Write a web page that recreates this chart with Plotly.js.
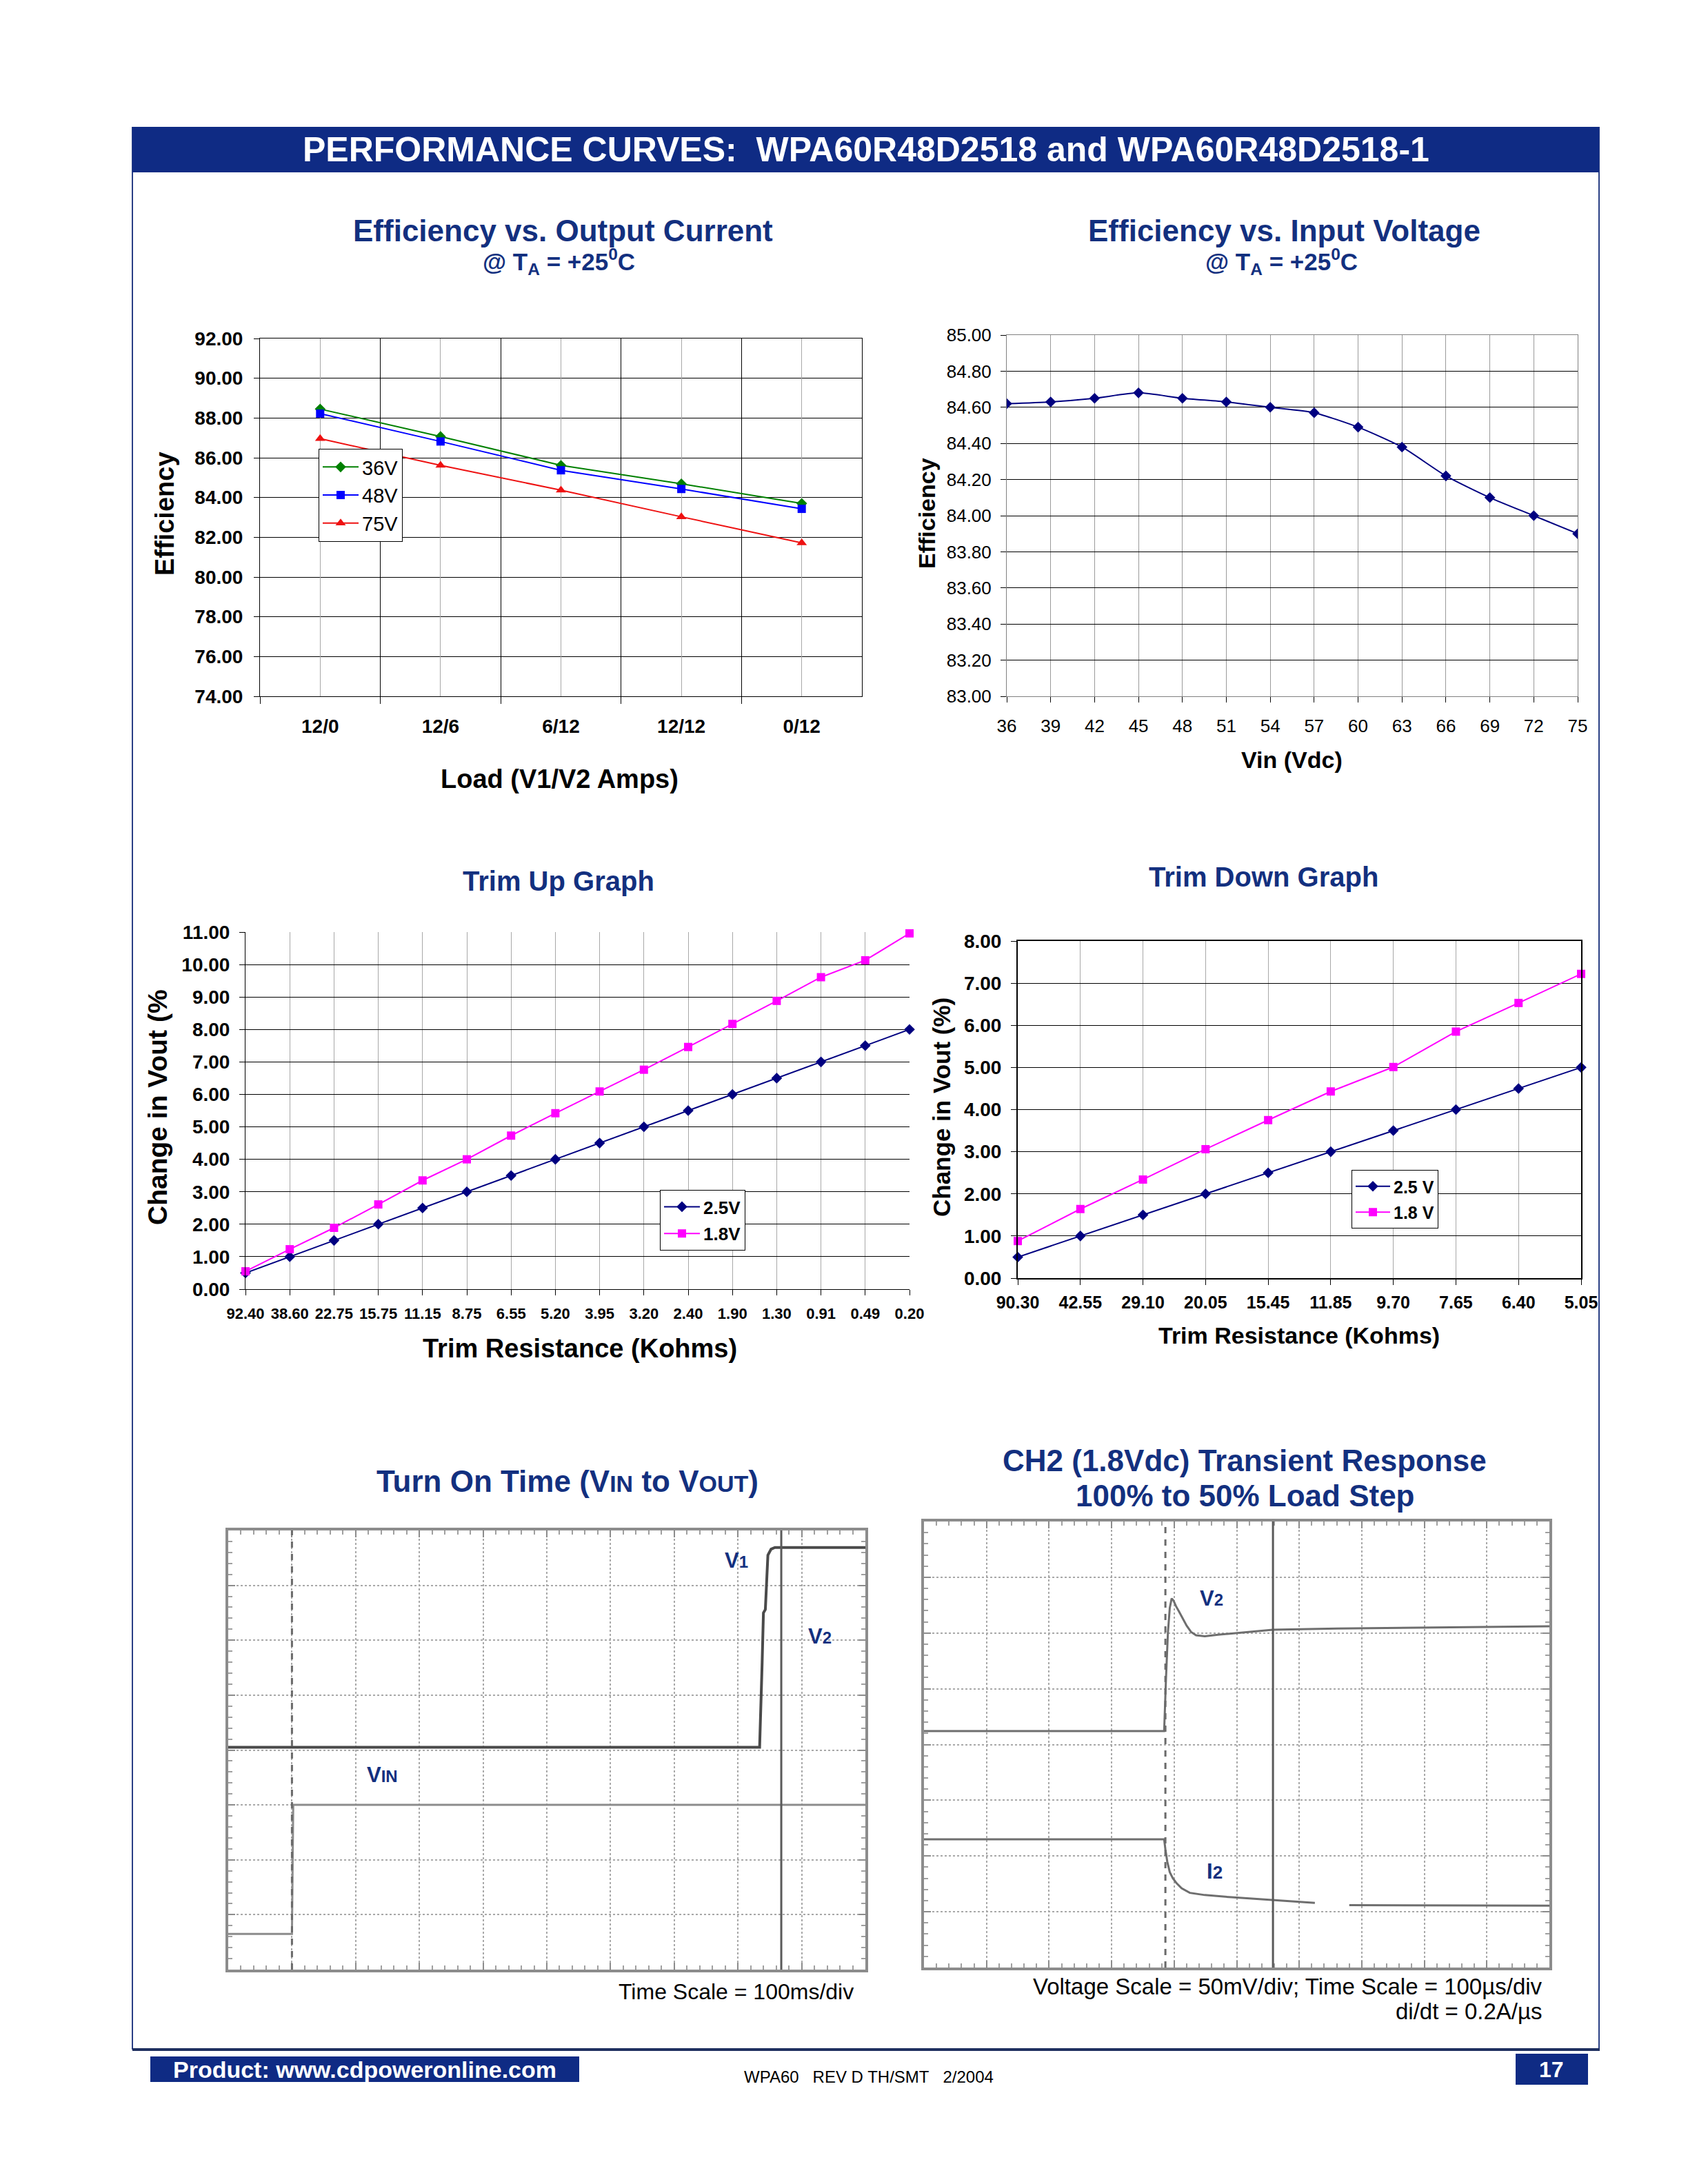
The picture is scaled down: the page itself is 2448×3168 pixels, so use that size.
<!DOCTYPE html>
<html><head><meta charset="utf-8">
<script src="https://cdn.plot.ly/plotly-3.0.1.min.js"></script>
<style>html,body{margin:0;padding:0;background:#fff}#page{width:2448px;height:3168px}</style>
</head><body><div id="page"></div>
<script>
// ================= DATA =================
const loadCats = ['12/0', '12/6', '6/12', '12/12', '0/12'];
const eff36V = [88.45, 87.07, 85.62, 84.69, 83.70];
const eff48V = [88.22, 86.82, 85.37, 84.43, 83.43];
const eff75V = [86.96, 85.62, 84.37, 83.03, 81.72];

const vinVdc = [36, 39, 42, 45, 48, 51, 54, 57, 60, 63, 66, 69, 72, 75];
const effVin = [84.62, 84.63, 84.65, 84.68, 84.65, 84.63, 84.60, 84.57, 84.49, 84.38, 84.22, 84.10, 84.00, 83.90];

const trimUpRes = ['92.40', '38.60', '22.75', '15.75', '11.15', '8.75', '6.55', '5.20', '3.95', '3.20', '2.40', '1.90', '1.30', '0.91', '0.49', '0.20'];
const trimUp25 = [0.5, 1.0, 1.5, 2.0, 2.5, 3.0, 3.5, 4.0, 4.5, 5.0, 5.5, 6.0, 6.5, 7.0, 7.5, 8.0];
const trimUp18 = [0.55, 1.23, 1.89, 2.61, 3.35, 4.00, 4.73, 5.42, 6.09, 6.76, 7.46, 8.17, 8.88, 9.61, 10.13, 10.96];

const trimDnRes = ['90.30', '42.55', '29.10', '20.05', '15.45', '11.85', '9.70', '7.65', '6.40', '5.05'];
const trimDn25 = [0.5, 1.0, 1.5, 2.0, 2.5, 3.0, 3.5, 4.0, 4.5, 5.0];
const trimDn18 = [0.88, 1.64, 2.34, 3.06, 3.75, 4.43, 5.01, 5.85, 6.53, 7.22];

// Oscilloscope traces (x and y in screen divisions)
const turnOnV1t = [0, 8.34, 8.38, 8.40, 8.43, 8.45, 8.47, 8.52, 8.58, 10];
const turnOnV1v = [4.05, 4.05, 5.6, 6.5, 6.56, 7.2, 7.55, 7.66, 7.69, 7.69];
const turnOnVINt = [0, 1.0, 1.02, 10];
const turnOnVINv = [0.65, 0.65, 3.0, 3.0];
const turnOnTrigger = 1.0, turnOnCursor = 8.68;

const stepV2t = [0, 3.84, 3.87, 3.90, 3.93, 3.96, 3.99, 4.03, 4.08, 4.14, 4.20, 4.27, 4.35, 4.49, 4.70, 4.92, 5.58, 6.61, 10];
const stepV2v = [4.24, 4.24, 5.2, 6.0, 6.45, 6.62, 6.58, 6.48, 6.38, 6.26, 6.13, 6.02, 5.96, 5.94, 5.97, 5.99, 6.06, 6.08, 6.12];
const stepI2t = [0, 3.84, 3.86, 3.89, 3.93, 3.98, 4.04, 4.12, 4.25, 4.49, 4.92, 5.58, 6.25, 6.5, 6.80, 10];
const stepI2v = [2.30, 2.30, 2.12, 1.90, 1.71, 1.60, 1.51, 1.42, 1.34, 1.30, 1.26, 1.21, 1.16, null, 1.12, 1.11];
const stepTrigger = 3.86, stepCursor = 5.58;

// ================= HELPERS =================
const W = 2448, H = 3168;
const P = x => x / W;
const Q = y => 1 - y / H;
const NAVY = '#13307f';
const BAND = '#0f2b84';
const SANS = 'Liberation Sans, Arial, Helvetica, sans-serif';
const dx = (a, b) => [P(a), P(b)];
const dy = (top, bot) => [Q(bot), Q(top)];

function ann(text, x, y, size, opts) {
  return Object.assign({
    text: text, x: P(x), y: Q(y), xref: 'paper', yref: 'paper', showarrow: false,
    xanchor: 'center', yanchor: 'middle',
    font: {family: SANS, size: size, color: '#000', weight: 'bold'}
  }, opts || {});
}
const navyFont = s => ({family: SANS, size: s, color: NAVY, weight: 'bold'});
const blackBold = s => ({family: SANS, size: s, color: '#000', weight: 'bold'});
const blackReg = s => ({family: SANS, size: s, color: '#000'});

// ================= TRACES =================
const traces = [
  {x: loadCats, y: eff36V, name: '36V', type: 'scatter', mode: 'lines+markers', xaxis: 'x', yaxis: 'y',
   line: {color: '#008000', width: 2}, marker: {symbol: 'diamond', size: 12, color: '#008000'}, legend: 'legend', legendgroup: 'a'},
  {x: loadCats, y: eff48V, name: '48V', type: 'scatter', mode: 'lines+markers', xaxis: 'x', yaxis: 'y',
   line: {color: '#0000ff', width: 2}, marker: {symbol: 'square', size: 12, color: '#0000ff'}, legend: 'legend', legendgroup: 'b'},
  {x: loadCats, y: eff75V, name: '75V', type: 'scatter', mode: 'lines+markers', xaxis: 'x', yaxis: 'y',
   line: {color: '#ee1111', width: 2}, marker: {symbol: 'triangle-up', size: 13, color: '#ee1111'}, legend: 'legend', legendgroup: 'c'},
  {x: [], y: [], type: 'scatter', xaxis: 'x7', yaxis: 'y', showlegend: false, hoverinfo: 'skip'},

  {x: vinVdc, y: effVin, name: 'Efficiency', type: 'scatter', mode: 'lines+markers', xaxis: 'x2', yaxis: 'y2', showlegend: false,
   line: {color: '#000080', width: 2, shape: 'spline', smoothing: 0.6}, marker: {symbol: 'diamond', size: 12, color: '#000080'}},

  {x: trimUpRes, y: trimUp25, name: '2.5V', type: 'scatter', mode: 'lines+markers', xaxis: 'x3', yaxis: 'y3', cliponaxis: false,
   line: {color: '#000080', width: 2}, marker: {symbol: 'diamond', size: 12, color: '#000080'}, legend: 'legend2', legendgroup: 'd'},
  {x: trimUpRes, y: trimUp18, name: '1.8V', type: 'scatter', mode: 'lines+markers', xaxis: 'x3', yaxis: 'y3', cliponaxis: false,
   line: {color: '#ff00ff', width: 2}, marker: {symbol: 'square', size: 12, color: '#ff00ff'}, legend: 'legend2', legendgroup: 'e'},

  {x: trimDnRes, y: trimDn25, name: '2.5 V', type: 'scatter', mode: 'lines+markers', xaxis: 'x4', yaxis: 'y4', cliponaxis: false,
   line: {color: '#000080', width: 2}, marker: {symbol: 'diamond', size: 12, color: '#000080'}, legend: 'legend3', legendgroup: 'f'},
  {x: trimDnRes, y: trimDn18, name: '1.8 V', type: 'scatter', mode: 'lines+markers', xaxis: 'x4', yaxis: 'y4', cliponaxis: false,
   line: {color: '#ff00ff', width: 2}, marker: {symbol: 'square', size: 12, color: '#ff00ff'}, legend: 'legend3', legendgroup: 'g'},

  {x: turnOnVINt, y: turnOnVINv, type: 'scatter', mode: 'lines', xaxis: 'x5', yaxis: 'y5', showlegend: false,
   line: {color: '#8c8c8c', width: 3}},
  {x: turnOnV1t, y: turnOnV1v, type: 'scatter', mode: 'lines', xaxis: 'x5', yaxis: 'y5', showlegend: false,
   line: {color: '#4a4a4a', width: 4}},

  {x: stepV2t, y: stepV2v, type: 'scatter', mode: 'lines', xaxis: 'x6', yaxis: 'y6', showlegend: false,
   line: {color: '#6e6e6e', width: 3}},
  {x: stepI2t, y: stepI2v, type: 'scatter', mode: 'lines', xaxis: 'x6', yaxis: 'y6', showlegend: false, connectgaps: false,
   line: {color: '#6e6e6e', width: 3}}
];

// ================= AXES =================
const scopeX = (d) => ({domain: d, range: [0, 10], dtick: 1, tick0: 0, showticklabels: false, zeroline: false,
  showgrid: true, gridcolor: '#a8a8a8', gridwidth: 2, griddash: 'dot',
  showline: true, mirror: 'ticks', linecolor: '#8c8c8c', linewidth: 4,
  ticks: 'inside', ticklen: 10, tickcolor: '#8c8c8c', tickwidth: 2,
  minor: {dtick: 0.2, ticks: 'inside', ticklen: 6, tickcolor: '#a0a0a0', tickwidth: 2}, fixedrange: true});
const scopeY = (d) => ({domain: d, range: [0, 8], dtick: 1, tick0: 0, showticklabels: false, zeroline: false,
  showgrid: true, gridcolor: '#a8a8a8', gridwidth: 2, griddash: 'dot',
  showline: true, mirror: 'ticks', linecolor: '#8c8c8c', linewidth: 4,
  ticks: 'inside', ticklen: 10, tickcolor: '#8c8c8c', tickwidth: 2,
  minor: {dtick: 0.2, ticks: 'inside', ticklen: 6, tickcolor: '#a0a0a0', tickwidth: 2}, fixedrange: true});

const layout = {
  width: W, height: H, margin: {l: 0, r: 0, t: 0, b: 0},
  paper_bgcolor: '#fff', plot_bgcolor: 'rgba(0,0,0,0)',
  font: {family: SANS, color: '#000'},
  showlegend: true,

  // Chart 1
  xaxis: {domain: dx(377, 1250), anchor: 'y', type: 'category', range: [-0.5, 4.5], tickson: 'boundaries',
    showgrid: true, gridcolor: '#000', gridwidth: 1, ticks: 'outside', ticklen: 10, tickcolor: '#000',
    showline: true, linecolor: '#000', mirror: true, tickfont: blackBold(28), ticklabelstandoff: 18, zeroline: false},
  xaxis7: {domain: dx(377, 1250), anchor: 'y', overlaying: 'x', range: [-0.5, 4.5], tick0: 0, dtick: 1,
    showgrid: true, gridcolor: '#a8a8a8', gridwidth: 1, showticklabels: false, ticks: '', showline: false, zeroline: false},
  yaxis: {domain: dy(491, 1010), anchor: 'x', range: [74, 92], dtick: 2, tickformat: '.2f',
    showgrid: true, gridcolor: '#000', ticks: 'outside', ticklen: 8, tickcolor: '#000',
    showline: true, linecolor: '#000', mirror: true, tickfont: blackBold(28), ticklabelstandoff: 10, zeroline: false},

  // Chart 2
  xaxis2: {domain: dx(1460, 2288), anchor: 'y2', range: [36, 75], dtick: 3, tick0: 36,
    showgrid: true, gridcolor: '#9a9a9a', ticks: 'outside', ticklen: 8, tickcolor: '#000',
    showline: true, linecolor: '#808080', mirror: true, tickfont: blackReg(26), ticklabelstandoff: 12, zeroline: false},
  yaxis2: {domain: dy(486, 1010), anchor: 'x2', range: [83, 85], dtick: 0.2, tickformat: '.2f',
    showgrid: true, gridcolor: '#000', ticks: 'outside', ticklen: 8, tickcolor: '#000',
    showline: true, linecolor: '#808080', mirror: true, tickfont: blackReg(26), ticklabelstandoff: 8, zeroline: false},

  // Chart 3
  xaxis3: {domain: dx(356, 1319), anchor: 'y3', type: 'category', range: [0, 15],
    showgrid: true, gridcolor: '#a8a8a8', ticks: 'outside', ticklen: 8, tickcolor: '#000',
    showline: true, linecolor: '#000', tickfont: blackBold(22), ticklabelstandoff: 8, zeroline: false},
  yaxis3: {domain: dy(1352, 1870), anchor: 'x3', range: [0, 11], dtick: 1, tickformat: '.2f',
    showgrid: true, gridcolor: '#000', ticks: 'outside', ticklen: 8, tickcolor: '#000',
    showline: true, linecolor: '#000', tickfont: blackBold(28), ticklabelstandoff: 8, zeroline: false},

  // Chart 4
  xaxis4: {domain: dx(1476, 2293), anchor: 'y4', type: 'category', range: [0, 9],
    showgrid: true, gridcolor: '#a8a8a8', ticks: 'outside', ticklen: 8, tickcolor: '#000',
    showline: true, linecolor: '#000', linewidth: 2, mirror: true, tickfont: blackBold(25), ticklabelstandoff: 4, zeroline: false},
  yaxis4: {domain: dy(1365, 1854), anchor: 'x4', range: [0, 8], dtick: 1, tickformat: '.2f',
    showgrid: true, gridcolor: '#000', ticks: 'outside', ticklen: 8, tickcolor: '#000',
    showline: true, linecolor: '#000', linewidth: 2, mirror: true, tickfont: blackBold(28), ticklabelstandoff: 8, zeroline: false},

  // Scopes
  xaxis5: Object.assign(scopeX(dx(331, 1255)), {anchor: 'y5'}),
  yaxis5: Object.assign(scopeY(dy(2220, 2857)), {anchor: 'x5'}),
  xaxis6: Object.assign(scopeX(dx(1340, 2247)), {anchor: 'y6'}),
  yaxis6: Object.assign(scopeY(dy(2207, 2854)), {anchor: 'x6'}),

  legend: {x: P(462), y: Q(651), xanchor: 'left', yanchor: 'top', bgcolor: '#fff', bordercolor: '#000', borderwidth: 1,
    font: blackReg(29), tracegroupgap: 0, itemwidth: 52},
  legend2: {x: P(957), y: Q(1726), xanchor: 'left', yanchor: 'top', bgcolor: '#fff', bordercolor: '#000', borderwidth: 1,
    font: blackBold(26), tracegroupgap: 2, itemwidth: 52},
  legend3: {x: P(1960), y: Q(1697), xanchor: 'left', yanchor: 'top', bgcolor: '#fff', bordercolor: '#000', borderwidth: 1,
    font: blackBold(25), tracegroupgap: 2, itemwidth: 50},

  shapes: [
    // page frame
    {type: 'line', xref: 'paper', yref: 'paper', x0: P(192), x1: P(192), y0: Q(184), y1: Q(2973), line: {color: '#2a3f85', width: 2}},
    {type: 'line', xref: 'paper', yref: 'paper', x0: P(2319), x1: P(2319), y0: Q(184), y1: Q(2973), line: {color: '#2a3f85', width: 2}},
    {type: 'line', xref: 'paper', yref: 'paper', x0: P(192), x1: P(2320), y0: Q(2973), y1: Q(2973), line: {color: '#1f3060', width: 4}},
    {type: 'rect', xref: 'paper', yref: 'paper', x0: P(192), x1: P(2319), y0: Q(250), y1: Q(184), fillcolor: BAND, line: {width: 0}},
    // footer boxes
    {type: 'rect', xref: 'paper', yref: 'paper', x0: P(218), x1: P(840), y0: Q(3020), y1: Q(2983), fillcolor: BAND, line: {width: 0}},
    {type: 'rect', xref: 'paper', yref: 'paper', x0: P(2198), x1: P(2303), y0: Q(3024), y1: Q(2979), fillcolor: BAND, line: {width: 0}},
    // scope trigger / cursor markers
    {type: 'line', xref: 'x5', yref: 'y5', x0: turnOnTrigger, x1: turnOnTrigger, y0: 0, y1: 8, line: {color: '#6a6a6a', width: 3, dash: 'dash'}},
    {type: 'line', xref: 'x5', yref: 'y5', x0: turnOnCursor, x1: turnOnCursor, y0: 0, y1: 8, line: {color: '#5a5a5a', width: 3}},
    {type: 'line', xref: 'x6', yref: 'y6', x0: stepTrigger, x1: stepTrigger, y0: 0, y1: 8, line: {color: '#6a6a6a', width: 3, dash: 'dash'}},
    {type: 'line', xref: 'x6', yref: 'y6', x0: stepCursor, x1: stepCursor, y0: 0, y1: 8, line: {color: '#5a5a5a', width: 3}}
  ],

  annotations: [
    ann('PERFORMANCE CURVES:  WPA60R48D2518 and WPA60R48D2518-1', 1256, 217, 50, {font: {family: SANS, size: 50, color: '#fff', weight: 'bold'}}),

    ann('Efficiency vs. Output Current', 816, 334, 44, {font: navyFont(44)}),
    ann('@ T<sub>A</sub> = +25<sup>0</sup>C', 810, 380, 35, {font: navyFont(35)}),
    ann('Efficiency vs. Input Voltage', 1862, 334, 44, {font: navyFont(44)}),
    ann('@ T<sub>A</sub> = +25<sup>0</sup>C', 1858, 380, 35, {font: navyFont(35)}),
    ann('Trim Up Graph', 810, 1278, 40, {font: navyFont(40)}),
    ann('Trim Down Graph', 1832, 1272, 40, {font: navyFont(40)}),
    ann("Turn On Time (V<span style='font-size:34px'>IN</span> to V<span style='font-size:34px'>OUT</span>)", 823, 2148, 44,
      {font: navyFont(44)}),
    ann('CH2 (1.8Vdc) Transient Response', 1805, 2118, 44, {font: navyFont(44)}),
    ann('100% to 50% Load Step', 1805, 2169, 44, {font: navyFont(44)}),

    // axis titles
    ann('Efficiency', 239, 745, 38, {textangle: -90, font: blackBold(38)}),
    ann('Load (V1/V2 Amps)', 811, 1130, 38, {font: blackBold(38)}),
    ann('Efficiency', 1344, 745, 34, {textangle: -90, font: blackBold(34)}),
    ann('Vin (Vdc)', 1874, 1102, 34, {font: blackBold(34)}),
    ann('Change in Vout (%', 228, 1606, 39, {textangle: -90, font: blackBold(39)}),
    ann('Trim Resistance (Kohms)', 841, 1956, 38, {font: blackBold(38)}),
    ann('Change in Vout (%)', 1365, 1606, 35, {textangle: -90, font: blackBold(35)}),
    ann('Trim Resistance (Kohms)', 1884, 1937, 34, {font: blackBold(34)}),

    // scope labels (placed in division coordinates)
    {text: "V<span style='font-size:24px'>1</span>", x: 7.98, y: 7.45, xref: 'x5', yref: 'y5', showarrow: false, font: navyFont(31)},
    {text: "V<span style='font-size:24px'>2</span>", x: 9.29, y: 6.07, xref: 'x5', yref: 'y5', showarrow: false, font: navyFont(31)},
    {text: "V<span style='font-size:24px'>IN</span>", x: 2.42, y: 3.55, xref: 'x5', yref: 'y5', showarrow: false, font: navyFont(31)},
    {text: "V<span style='font-size:24px'>2</span>", x: 4.6, y: 6.62, xref: 'x6', yref: 'y6', showarrow: false, font: navyFont(31)},
    {text: "I<span style='font-size:26px'>2</span>", x: 4.65, y: 1.72, xref: 'x6', yref: 'y6', showarrow: false, font: navyFont(31)},

    ann('Time Scale = 100ms/div', 1240, 2889, 32, {xanchor: 'right', font: blackReg(32)}),
    ann('Voltage Scale = 50mV/div; Time Scale = 100µs/div', 2239, 2881, 33, {xanchor: 'right', font: blackReg(33)}),
    ann('di/dt = 0.2A/µs', 2239, 2917, 33, {xanchor: 'right', font: blackReg(33)}),

    // footer
    ann('Product: www.cdpoweronline.com', 529, 3002, 34, {font: {family: SANS, size: 34, color: '#fff', weight: 'bold'}}),
    ann('WPA60&nbsp;&nbsp;&nbsp;REV D TH/SMT&nbsp;&nbsp;&nbsp;2/2004', 1260, 3012, 24, {font: blackReg(24)}),
    ann('17', 2250, 3002, 32, {font: {family: SANS, size: 32, color: '#fff', weight: 'bold'}})
  ]
};

Plotly.newPlot('page', traces, layout, {displayModeBar: false, staticPlot: true});
</script>
</body></html>
